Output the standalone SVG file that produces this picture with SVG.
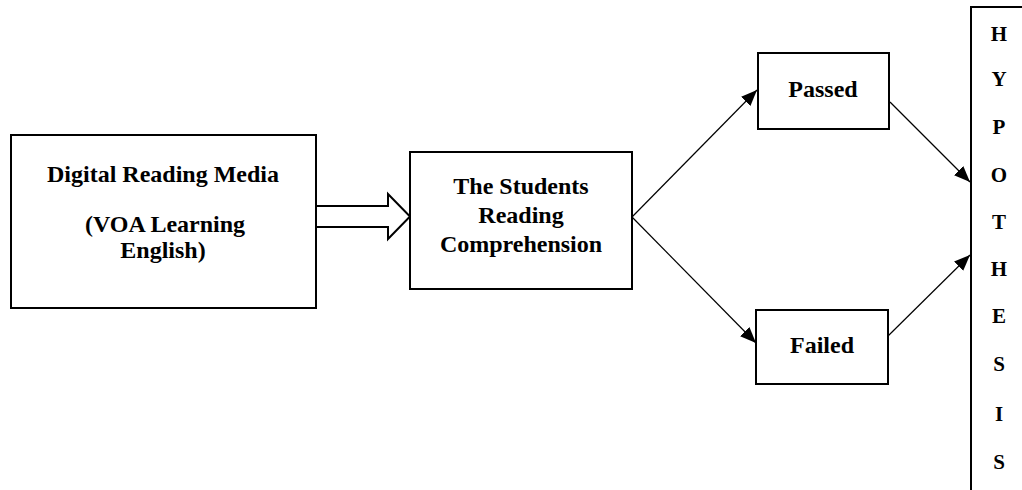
<svg xmlns="http://www.w3.org/2000/svg" width="1022" height="490" viewBox="0 0 1022 490">
<style>
.box{fill:#fff;stroke:#000;stroke-width:2}
.t{font-family:"Liberation Serif","Times New Roman",serif;font-weight:bold;font-size:24px;fill:#000;text-anchor:middle}
.h{font-family:"Liberation Serif","Times New Roman",serif;font-weight:bold;font-size:21px;fill:#000;text-anchor:middle}
.ln{stroke:#000;stroke-width:1.2;fill:none;marker-end:url(#ah)}
</style>
<defs>
<marker id="ah" viewBox="0 0 16 13" refX="16" refY="6.5" markerWidth="16" markerHeight="13" markerUnits="userSpaceOnUse" orient="auto">
<path d="M0,0 L16,6.5 L0,13 Z" fill="#000"/>
</marker>
</defs>
<rect width="1022" height="490" fill="#fff"/>
<g id="connectors">
<path d="M316,206 L388,206 L388,194 L410,216.5 L388,239 L388,227 L316,227 Z" fill="#fff" stroke="#000" stroke-width="2"/>
<line class="ln" x1="632" y1="217" x2="757" y2="90"/>
<line class="ln" x1="632" y1="217" x2="756" y2="343"/>
<line class="ln" x1="890" y1="102" x2="970" y2="182"/>
<line class="ln" x1="888" y1="336" x2="970" y2="255"/>
</g>
<g id="node-digital">
<rect class="box" x="11" y="135" width="305" height="173"/>
<text class="t" x="163" y="182">Digital Reading Media</text>
<text class="t" x="165" y="232">(VOA Learning</text>
<text class="t" x="163" y="258">English)</text>
</g>
<g id="node-students">
<rect class="box" x="410" y="152" width="222" height="137"/>
<text class="t" x="521" y="194">The Students</text>
<text class="t" x="521" y="223">Reading</text>
<text class="t" x="521" y="252">Comprehension</text>
</g>
<g id="node-passed">
<rect class="box" x="758" y="53" width="131" height="76"/>
<text class="t" x="823" y="97">Passed</text>
</g>
<g id="node-failed">
<rect class="box" x="756" y="310" width="132" height="74"/>
<text class="t" x="822" y="353">Failed</text>
</g>
<g id="node-hypothesis">
<rect class="box" x="971" y="7" width="60" height="500"/>
<text class="h" x="999" y="41">H</text>
<text class="h" x="999" y="86">Y</text>
<text class="h" x="999" y="134">P</text>
<text class="h" x="999" y="182">O</text>
<text class="h" x="999" y="229">T</text>
<text class="h" x="999" y="276">H</text>
<text class="h" x="999" y="323">E</text>
<text class="h" x="999" y="371">S</text>
<text class="h" x="999" y="421">I</text>
<text class="h" x="999" y="469">S</text>
</g>
</svg>
